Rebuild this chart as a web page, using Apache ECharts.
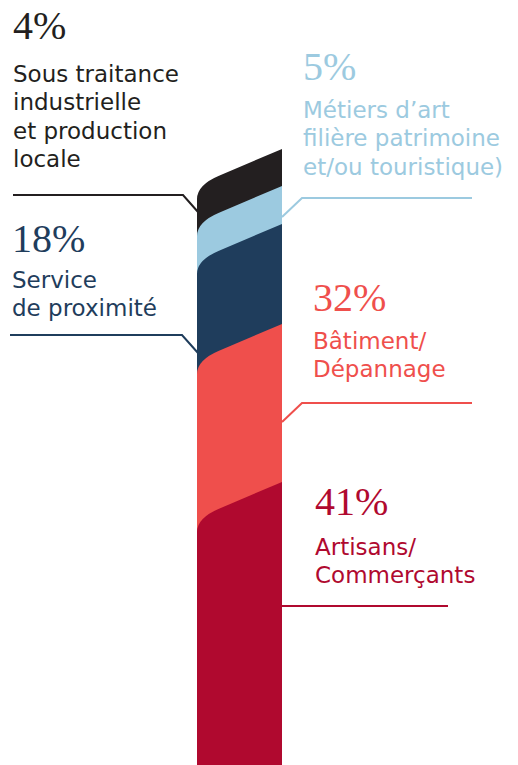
<!DOCTYPE html>
<html>
<head>
<meta charset="utf-8">
<script src="https://cdn.jsdelivr.net/npm/echarts@6/dist/echarts.min.js"></script>
<style>
  html, body { margin: 0; padding: 0; background: #ffffff; }
  #chart { width: 518px; height: 765px; }
</style>
</head>
<body>
<div id="chart"></div>
<script>
// ---- data (top of ribbon to bottom) ----
const categories = [
  'Sous traitance industrielle et production locale',
  'Métiers d’art filière patrimoine et/ou touristique)',
  'Service de proximité',
  'Bâtiment/Dépannage',
  'Artisans/Commerçants'
];
const shares = [4, 5, 18, 32, 41];               // percentage labels
const bandThickness = [37, 38, 100, 158, 283];   // drawn thickness of each band
const labelLines = [
  ['Sous traitance', 'industrielle', 'et production', 'locale'],
  ['Métiers d’art', 'filière patrimoine', 'et/ou touristique)'],
  ['Service', 'de proximité'],
  ['Bâtiment/', 'Dépannage'],
  ['Artisans/', 'Commerçants']
];

// ---- styles / layout ----
const colors = ['#231f20', '#9ccae0', '#1f3d5c', '#ef4f4c', '#b0092f'];
const labelLayout = [
  { x: 13,  pctBase: 39,  textBase: 82,  leader: [[13, 195], [183, 195], [198, 212]] },
  { x: 303, pctBase: 80,  textBase: 118, leader: [[282, 217], [302, 198], [472, 198]] },
  { x: 12,  pctBase: 252, textBase: 288, leader: [[10, 335], [182, 335], [198, 353]] },
  { x: 313, pctBase: 311, textBase: 349, leader: [[282, 422], [302, 403], [472, 403]] },
  { x: 315, pctBase: 515, textBase: 555, leader: [[282, 606], [448, 606]] }
];
const SLANT = 50, CORNER_K = 14, CORNER_R = 22;
const PCT_FONT = 40, TXT_FONT = 23, LINE_H = 28.5;

// cumulative band extents, measured from the bottom of the axis
const n = bandThickness.length;
const seriesData = [];
let acc = 0;
const tmp = [];
for (let i = n - 1; i >= 0; i--) {
  tmp[i] = [0, acc + bandThickness[i], acc];
  acc += bandThickness[i];
}
for (let i = 0; i < n; i++) {
  seriesData.push({ value: tmp[i], name: categories[i], itemStyle: { color: colors[i] } });
}

function renderItem(params, api) {
  const topV = api.value(1);
  const pTop = api.coord([0, topV]);
  const w = api.size([1, 0])[0];
  const xL = pTop[0] - w / 2, xR = pTop[0] + w / 2;
  const cs = params.coordSys;
  const yBottom = cs.y + cs.height;
  const yR = pTop[1];
  const yL = yR + SLANT;
  const yC = yL - CORNER_K;
  const m = (yC - yR) / w;
  const yM = yR + m * (w - CORNER_R);
  const d = 'M' + xL + ' ' + yL +
    ' Q' + xL + ' ' + yC + ' ' + (xL + CORNER_R) + ' ' + yM +
    ' L' + xR + ' ' + yR +
    ' L' + xR + ' ' + yBottom +
    ' L' + xL + ' ' + yBottom + ' Z';
  return {
    type: 'path',
    shape: { pathData: d },
    style: { fill: api.visual('color') }
  };
}

// labels and leader lines
const graphics = [];
for (let i = 0; i < n; i++) {
  const L = labelLayout[i];
  graphics.push({
    type: 'polyline',
    z: 10,
    shape: { points: L.leader },
    style: { stroke: colors[i], lineWidth: 2, fill: null }
  });
  graphics.push({
    type: 'text',
    z: 10,
    x: L.x,
    y: L.pctBase - PCT_FONT * 0.34,
    style: {
      text: shares[i] + '%',
      fill: colors[i],
      font: 'normal ' + PCT_FONT + 'px "Liberation Serif", serif',
      verticalAlign: 'middle',
      align: 'left'
    }
  });
  labelLines[i].forEach(function (line, j) {
    graphics.push({
      type: 'text',
      z: 10,
      x: L.x,
      y: L.textBase + j * LINE_H - TXT_FONT * 0.35,
      style: {
        text: line,
        fill: colors[i],
        font: 'normal ' + TXT_FONT + 'px "DejaVu Sans", sans-serif',
        verticalAlign: 'middle',
        align: 'left'
      }
    });
  });
}

const chart = echarts.init(document.getElementById('chart'), null, { renderer: 'svg' });
chart.setOption({
  animation: false,
  backgroundColor: '#ffffff',
  grid: { left: 197, right: 236, top: 0, bottom: 0 },
  xAxis: { type: 'category', data: ['Secteurs'], show: false, boundaryGap: true },
  yAxis: { type: 'value', min: 0, max: 765, show: false },
  series: [{
    type: 'custom',
    renderItem: renderItem,
    data: seriesData,
    encode: { x: 0, y: [1, 2] }
  }],
  graphic: graphics
});
</script>
</body>
</html>
